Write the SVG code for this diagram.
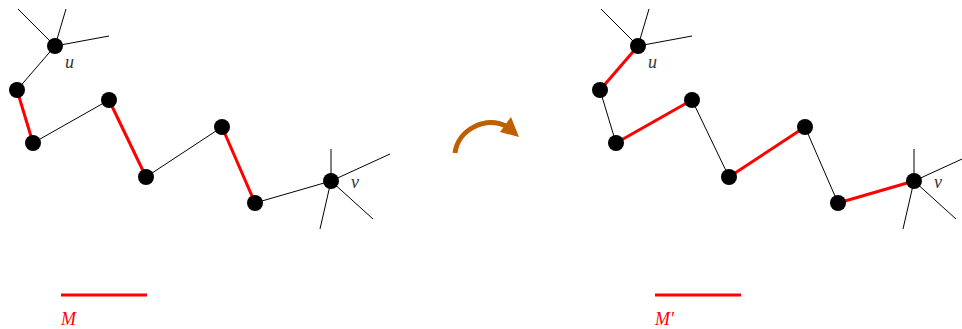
<svg xmlns="http://www.w3.org/2000/svg" width="962" height="329" viewBox="0 0 962 329">
<style>
.e{stroke:#000;stroke-width:1;fill:none}
.m{stroke:#ff0000;stroke-width:3;fill:none}
.n{fill:#000}
.lbl{font-family:"Liberation Serif","DejaVu Serif",serif;font-style:italic;font-size:18px;fill:#333}
.leg{font-family:"Liberation Serif","DejaVu Serif",serif;font-style:italic;font-size:18px;fill:#ff0000}
</style>
<g id="connectors">
<g id="left-edges">
<line class="e" x1="55" y1="46" x2="18" y2="9"/>
<line class="e" x1="55" y1="46" x2="66" y2="9"/>
<line class="e" x1="55" y1="46" x2="109" y2="36"/>
<line class="e" x1="55" y1="46" x2="17" y2="90"/>
<line class="m" x1="17" y1="90" x2="33" y2="143"/>
<line class="e" x1="33" y1="143" x2="109" y2="100"/>
<line class="m" x1="109" y1="100" x2="146" y2="177"/>
<line class="e" x1="146" y1="177" x2="222" y2="127"/>
<line class="m" x1="222" y1="127" x2="255" y2="203"/>
<line class="e" x1="255" y1="203" x2="331" y2="181"/>
<line class="e" x1="331" y1="181" x2="331" y2="149"/>
<line class="e" x1="331" y1="181" x2="390" y2="154"/>
<line class="e" x1="331" y1="181" x2="373" y2="219"/>
<line class="e" x1="331" y1="181" x2="320" y2="229"/>
</g>
<g id="right-edges" transform="translate(583,0)">
<line class="e" x1="55" y1="46" x2="18" y2="9"/>
<line class="e" x1="55" y1="46" x2="66" y2="9"/>
<line class="e" x1="55" y1="46" x2="109" y2="36"/>
<line class="m" x1="55" y1="46" x2="17" y2="90"/>
<line class="e" x1="17" y1="90" x2="33" y2="143"/>
<line class="m" x1="33" y1="143" x2="109" y2="100"/>
<line class="e" x1="109" y1="100" x2="146" y2="177"/>
<line class="m" x1="146" y1="177" x2="222" y2="127"/>
<line class="e" x1="222" y1="127" x2="255" y2="203"/>
<line class="m" x1="255" y1="203" x2="331" y2="181"/>
<line class="e" x1="331" y1="181" x2="331" y2="149"/>
<line class="e" x1="331" y1="181" x2="390" y2="154"/>
<line class="e" x1="331" y1="181" x2="373" y2="219"/>
<line class="e" x1="331" y1="181" x2="320" y2="229"/>
</g>
</g>
<g id="left-u"><circle class="n" cx="55" cy="46" r="8"/><text class="lbl" x="65" y="68">u</text></g>
<g id="left-a"><circle class="n" cx="17" cy="90" r="8"/></g>
<g id="left-b"><circle class="n" cx="33" cy="143" r="8"/></g>
<g id="left-c"><circle class="n" cx="109" cy="100" r="8"/></g>
<g id="left-d"><circle class="n" cx="146" cy="177" r="8"/></g>
<g id="left-e"><circle class="n" cx="222" cy="127" r="8"/></g>
<g id="left-f"><circle class="n" cx="255" cy="203" r="8"/></g>
<g id="left-v"><circle class="n" cx="331" cy="181" r="8"/><text class="lbl" x="351" y="188">v</text></g>
<g id="right-u"><circle class="n" cx="638" cy="46" r="8"/><text class="lbl" x="648" y="68">u</text></g>
<g id="right-a"><circle class="n" cx="600" cy="90" r="8"/></g>
<g id="right-b"><circle class="n" cx="616" cy="143" r="8"/></g>
<g id="right-c"><circle class="n" cx="692" cy="100" r="8"/></g>
<g id="right-d"><circle class="n" cx="729" cy="177" r="8"/></g>
<g id="right-e"><circle class="n" cx="805" cy="127" r="8"/></g>
<g id="right-f"><circle class="n" cx="838" cy="203" r="8"/></g>
<g id="right-v"><circle class="n" cx="914" cy="181" r="8"/><text class="lbl" x="934" y="188">v</text></g>
<g id="arrow">
<path d="M455,153 C458,130 485,115 508,127" stroke="#bf6000" stroke-width="5" fill="none"/>
<path d="M519,137 L500,132 L511,117 z" fill="#bf6000"/>
</g>
<g id="legend-left"><line class="m" x1="61" y1="295" x2="147" y2="295"/><text class="leg" x="61" y="325">M</text></g>
<g id="legend-right"><line class="m" x1="655" y1="295" x2="741" y2="295"/><text class="leg" x="655" y="325">M′</text></g>
</svg>
